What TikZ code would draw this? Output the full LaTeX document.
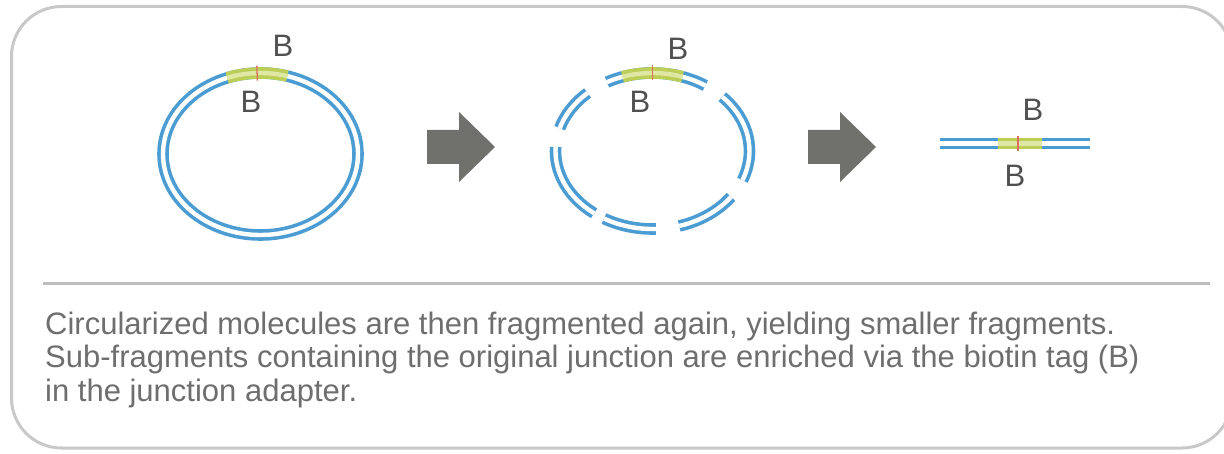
\documentclass[tikz,border=0pt]{standalone}
\usepackage{fontspec}
\setmainfont{Liberation Sans}
\usetikzlibrary{calc}
\definecolor{dnablue}{RGB}{75,156,211}
\definecolor{tagband}{RGB}{188,206,86}
\definecolor{tagfill}{RGB}{222,231,163}
\definecolor{junction}{RGB}{222,110,95}
\definecolor{arrowgray}{RGB}{112,113,109}
\definecolor{frame}{RGB}{200,200,200}
\definecolor{rule}{RGB}{190,190,190}
\definecolor{caption}{RGB}{110,110,110}
\definecolor{label}{RGB}{80,80,80}
\begin{document}
\begin{tikzpicture}[x=1pt,y=1pt,
  strand/.style={draw=dnablue, line width=3.6pt, double=white, double distance=4.4pt},
  tag/.style={draw=tagband, line width=3.6pt, double=tagfill, double distance=4.4pt},
  tick/.style={draw=junction, line width=1.3pt},
  blockarrow/.style={fill=arrowgray, draw=none},
  biotin/.style={font=\fontsize{31}{31}\selectfont, text=label, inner sep=0pt},
  captionline/.style={font=\fontsize{31}{33}\selectfont, text=caption, inner sep=0pt, anchor=base west}]
\useasboundingbox (0,0) rectangle (1224,453);
\clip (0,0) rectangle (1224,453);
\fill[white] (0,0) rectangle (1224,453);

% outer frame and separator rule
\draw[frame, line width=3pt, rounded corners=50pt] (11.5,5) rectangle (1232,446.5);
\coordinate (ruleL) at (43,169);
\coordinate (ruleR) at (1210,169);
\draw[rule, line width=3pt] (ruleL) -- (ruleR);

% centres of the molecules
\coordinate (c1) at (260.5,299);
\coordinate (c2) at (652.5,302);

% circularized molecule
\draw[strand] (c1) ellipse [x radius=97.5, y radius=81];
\draw[tag] (c1) ++(74:97.5 and 81) arc[start angle=74, end angle=110, x radius=97.5, y radius=81];
\draw[tick] ($(c1)+(92:90 and 73.5)$) -- ($(c1)+(92:105 and 88.5)$);
\node[biotin] (b1t) at (283,407) {B};
\node[biotin] (b1b) at (251,351) {B};

% fragmented circle
\foreach \a/\b in {57/118, 132/163, 177/233, 240/272, 286/324, -22/44}{
  \draw[strand] (c2) ++(\a:97 and 78) arc[start angle=\a, end angle=\b, x radius=97, y radius=78];
}
\draw[tag] (c2) ++(72:97 and 78) arc[start angle=72, end angle=108, x radius=97, y radius=78];
\draw[tick] ($(c2)+(90:89.5 and 70.5)$) -- ($(c2)+(90:104.5 and 85.5)$);
\node[biotin] (b2t) at (678,404) {B};
\node[biotin] (b2b) at (640,351) {B};

% enriched linear sub-fragment
\coordinate (l0) at (940,309.5);
\coordinate (l1) at (1090,309.5);
\coordinate (g0) at (998,309.5);
\coordinate (g1) at (1042,309.5);
\draw[strand] (l0) -- (l1);
\draw[tag] (g0) -- (g1);
\draw[tick] ($(1018,309.5)+(0,-7.5)$) -- ($(1018,309.5)+(0,7.5)$);
\node[biotin] (b3t) at (1033,343) {B};
\node[biotin] (b3b) at (1015,277) {B};

% process arrows
\foreach \dx in {0,381}{
  \fill[blockarrow, xshift=\dx] (427,289) -- (459,289) -- (459,271) -- (495,306)
    -- (459,341) -- (459,323) -- (427,323) -- cycle;
}

% caption
\node[captionline] (t1) at (45,118) {Circularized molecules are then fragmented again, yielding smaller fragments.};
\node[captionline] (t2) at (45,85) {Sub-fragments containing the original junction are enriched via the biotin tag (B)};
\node[captionline] (t3) at (45,52) {in the junction adapter.};
\end{tikzpicture}
\end{document}
